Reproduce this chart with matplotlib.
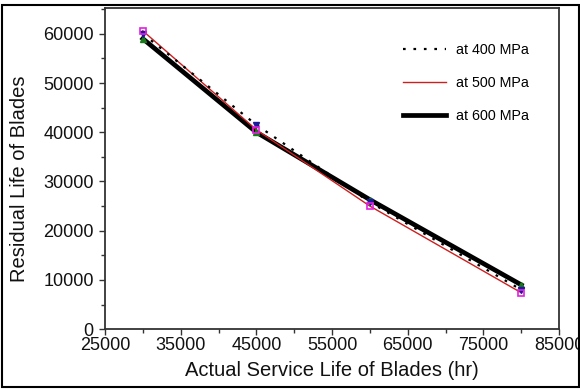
import matplotlib
matplotlib.use("Agg")
import matplotlib.pyplot as plt
from matplotlib.patches import Rectangle
from matplotlib.ticker import FixedLocator

plt.rcParams['font.family'] = ['Liberation Sans', 'DejaVu Sans']

service_life = [30000, 45000, 60000, 80000]
residual_400 = [60000, 41500, 25800, 8000]
residual_500 = [60600, 40500, 25000, 7400]
residual_600 = [59000, 40000, 26300, 9000]
labels = ["at 400 MPa", "at 500 MPa", "at 600 MPa"]
x_ticks = [25000, 35000, 45000, 55000, 65000, 75000, 85000]
y_ticks = [0, 10000, 20000, 30000, 40000, 50000, 60000]

fig = plt.figure(figsize=(5.8, 3.9), dpi=100)
ax = fig.add_axes([0.181, 0.156, 0.783, 0.823])

ax.plot(service_life, residual_600, color='black', lw=3.4, label=labels[2], zorder=2)
ax.plot(service_life, residual_500, color='#cc1f1f', lw=1.0, label=labels[1], zorder=3)
ax.plot(service_life, residual_400, color='black', lw=1.6, ls=(0, (1.2, 3.5)),
        label=labels[0], zorder=4)

ax.plot(service_life, residual_600, ls='none', marker='^', ms=4, color='#1a7a1a', zorder=5)
ax.plot(service_life, residual_400, ls='none', marker='v', ms=4, color='#1a1a9a', zorder=6)
ax.plot(service_life, residual_500, ls='none', marker='s', ms=4, mfc='none',
        mec='#e020e0', mew=1.2, zorder=7)

ax.set_xlim(25000, 85000)
ax.set_ylim(0, 65200)
ax.xaxis.set_major_locator(FixedLocator(x_ticks))
ax.xaxis.set_minor_locator(FixedLocator([t + 5000 for t in x_ticks[:-1]]))
ax.yaxis.set_major_locator(FixedLocator(y_ticks))
ax.yaxis.set_minor_locator(FixedLocator([t + 5000 for t in y_ticks]))
ax.tick_params(which='both', direction='out', colors='#333333', labelcolor='#111111',
               labelsize=13)
ax.tick_params(which='major', length=4, width=1)
ax.tick_params(axis='x', which='major', pad=2)
ax.tick_params(axis='y', which='major', pad=4)
ax.tick_params(which='minor', length=3, width=1)
for s in ax.spines.values():
    s.set_color('#333333')
    s.set_linewidth(1.3)

ax.set_xlabel("Actual Service Life of Blades (hr)", fontsize=14.5, color='#111111')
ax.set_ylabel("Residual Life of Blades", fontsize=14.5, color='#111111')
ax.xaxis.set_label_coords(0.5, -0.098)
ax.yaxis.set_label_coords(-0.168, 0.47)

h, l = ax.get_legend_handles_labels()
order = [2, 1, 0]
ax.legend([h[i] for i in order], [l[i] for i in order], loc='upper left',
          bbox_to_anchor=(0.627, 0.933), frameon=False, fontsize=10.3,
          handlelength=3.0, labelspacing=1.35, handletextpad=0.7)

fig.patches.append(Rectangle((0.004, 0.008), 0.994, 0.98, transform=fig.transFigure,
                             fill=False, edgecolor='black', lw=1.5))

fig.savefig("out.png", dpi=100)
